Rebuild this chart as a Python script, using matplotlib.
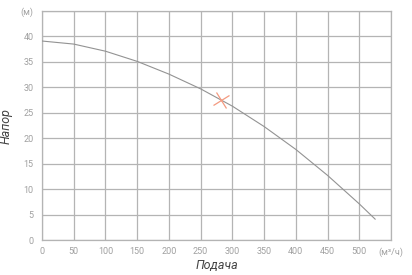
import matplotlib.pyplot as plt
from matplotlib.markers import MarkerStyle
from matplotlib.transforms import Affine2D

# curve: flow (m3/h) vs head (m)
flow = [0, 50, 100, 150, 200, 250, 300, 350, 400, 450, 500, 525]
head = [39.1, 38.5, 37.1, 35.1, 32.6, 29.7, 26.3, 22.3, 17.8, 12.7, 7.1, 4.1]

# duty point
duty_q = [282]
duty_h = [27.6]

xticks = [0, 50, 100, 150, 200, 250, 300, 350, 400, 450, 500, 550]
xlabels = ["0", "50", "100", "150", "200", "250", "300", "350", "400", "450", "500", "(м³/ч)"]
yticks = [0, 5, 10, 15, 20, 25, 30, 35, 40, 45]
ylabels = ["0", "5", "10", "15", "20", "25", "30", "35", "40", "(м)"]

plt.rcParams['font.family'] = ['Roboto', 'DejaVu Sans']

fig = plt.figure(figsize=(4.12, 2.75), dpi=100)
ax = fig.add_axes([42/412, 35/275, 349/412, 229/275])

ax.plot(flow, head, color="#939393", lw=0.8, zorder=3)
m = MarkerStyle("x")
m._transform = m.get_transform() + Affine2D().rotate_deg(-15)
ax.plot(duty_q, duty_h, ls="none", marker=m, ms=9.5, mew=0.9, color="#f49a80", zorder=4)

ax.set_xlim(0, 550)
ax.set_ylim(0, 45)
ax.set_xticks(xticks)
ax.set_xticklabels(xlabels)
ax.set_yticks(yticks)
ax.set_yticklabels(ylabels)
ax.grid(True, color="#b4b4b4", lw=0.9)
ax.set_axisbelow(True)
for s in ax.spines.values():
    s.set_color("#b4b4b4")
    s.set_linewidth(0.9)
ax.tick_params(length=0, labelsize=6.5, labelcolor="#a0a0a0")
ax.tick_params(axis="x", pad=5)
ax.tick_params(axis="y", pad=6)

ax.set_xlabel("Подача", fontsize=9, style="italic", color="#444444", labelpad=2)
ax.set_ylabel("Напор", fontsize=9, style="italic", color="#444444", labelpad=6)

fig.savefig("out.png", dpi=100)
